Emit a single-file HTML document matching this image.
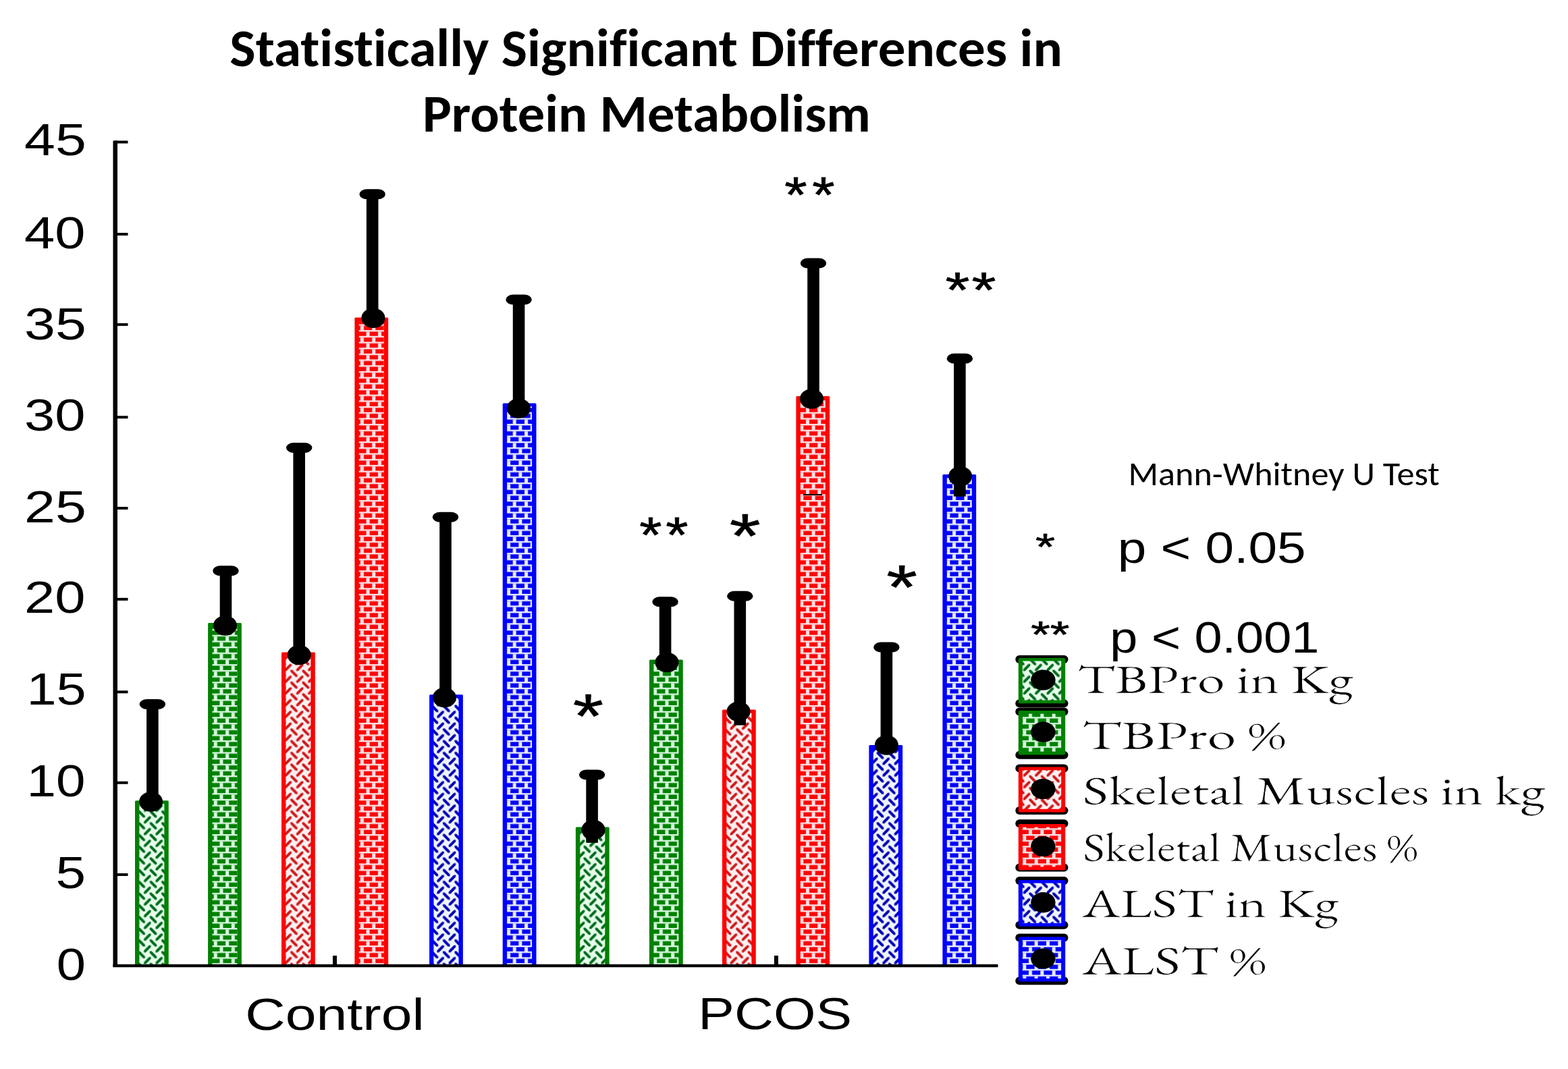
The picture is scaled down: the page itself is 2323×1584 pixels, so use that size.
<!DOCTYPE html><html><head><meta charset="utf-8"><title>Statistically Significant Differences in Protein Metabolism</title><style>html,body{margin:0;padding:0;background:#fff;overflow:hidden}svg{display:block}</style></head><body>
<svg width="2323" height="1584" viewBox="0 0 2323 1584">
<defs>
<pattern id="wg" patternUnits="userSpaceOnUse" x="12.86" y="1.9" width="17.37" height="17.37"><rect width="17.37" height="17.37" fill="#e6fdea"/><path d="M-16.87 -16.87L-14.02 -16.87L-6.37 -9.22L-6.37 -6.37L-9.22 -6.37L-16.87 -14.02ZM-8.19 2.31L-8.19 -0.54L-0.54 -8.19L2.31 -8.19L2.31 -5.34L-5.34 2.31ZM-16.87 0.50L-14.02 0.50L-6.37 8.15L-6.37 11.00L-9.22 11.00L-16.87 3.35ZM-8.19 19.69L-8.19 16.84L-0.54 9.19L2.31 9.19L2.31 12.04L-5.34 19.69ZM-16.87 17.87L-14.02 17.87L-6.37 25.52L-6.37 28.37L-9.22 28.37L-16.87 20.72ZM-8.19 37.05L-8.19 34.20L-0.54 26.55L2.31 26.55L2.31 29.41L-5.34 37.05ZM0.50 -16.87L3.35 -16.87L11.00 -9.22L11.00 -6.37L8.15 -6.37L0.50 -14.02ZM9.19 2.31L9.19 -0.54L16.84 -8.19L19.69 -8.19L19.69 -5.34L12.04 2.31ZM0.50 0.50L3.35 0.50L11.00 8.15L11.00 11.00L8.15 11.00L0.50 3.35ZM9.19 19.69L9.19 16.84L16.84 9.19L19.69 9.19L19.69 12.04L12.04 19.69ZM0.50 17.87L3.35 17.87L11.00 25.52L11.00 28.37L8.15 28.37L0.50 20.72ZM9.19 37.05L9.19 34.20L16.84 26.55L19.69 26.55L19.69 29.41L12.04 37.05ZM17.87 -16.87L20.72 -16.87L28.37 -9.22L28.37 -6.37L25.52 -6.37L17.87 -14.02ZM26.55 2.31L26.55 -0.54L34.20 -8.19L37.05 -8.19L37.05 -5.34L29.41 2.31ZM17.87 0.50L20.72 0.50L28.37 8.15L28.37 11.00L25.52 11.00L17.87 3.35ZM26.55 19.69L26.55 16.84L34.20 9.19L37.05 9.19L37.05 12.04L29.41 19.69ZM17.87 17.87L20.72 17.87L28.37 25.52L28.37 28.37L25.52 28.37L17.87 20.72ZM26.55 37.05L26.55 34.20L34.20 26.55L37.05 26.55L37.05 29.41L29.41 37.05Z" fill="#006c1e"/></pattern>
<pattern id="kg" patternUnits="userSpaceOnUse" x="2.14" y="2.76" width="17.37" height="17.37"><rect width="17.37" height="17.37" fill="#008000"/><rect x="0" y="0" width="17.37" height="2.3" fill="#d8f9df"/><rect x="0" y="8.685" width="17.37" height="2.3" fill="#d8f9df"/><rect x="2" y="2.3" width="5.0" height="6.385000000000001" fill="#d8f9df"/><rect x="10.685" y="10.985" width="5.0" height="6.385000000000001" fill="#d8f9df"/></pattern>
<pattern id="wr" patternUnits="userSpaceOnUse" x="12.86" y="1.9" width="17.37" height="17.37"><rect width="17.37" height="17.37" fill="#fdf0f2"/><path d="M-16.87 -16.87L-14.02 -16.87L-6.37 -9.22L-6.37 -6.37L-9.22 -6.37L-16.87 -14.02ZM-8.19 2.31L-8.19 -0.54L-0.54 -8.19L2.31 -8.19L2.31 -5.34L-5.34 2.31ZM-16.87 0.50L-14.02 0.50L-6.37 8.15L-6.37 11.00L-9.22 11.00L-16.87 3.35ZM-8.19 19.69L-8.19 16.84L-0.54 9.19L2.31 9.19L2.31 12.04L-5.34 19.69ZM-16.87 17.87L-14.02 17.87L-6.37 25.52L-6.37 28.37L-9.22 28.37L-16.87 20.72ZM-8.19 37.05L-8.19 34.20L-0.54 26.55L2.31 26.55L2.31 29.41L-5.34 37.05ZM0.50 -16.87L3.35 -16.87L11.00 -9.22L11.00 -6.37L8.15 -6.37L0.50 -14.02ZM9.19 2.31L9.19 -0.54L16.84 -8.19L19.69 -8.19L19.69 -5.34L12.04 2.31ZM0.50 0.50L3.35 0.50L11.00 8.15L11.00 11.00L8.15 11.00L0.50 3.35ZM9.19 19.69L9.19 16.84L16.84 9.19L19.69 9.19L19.69 12.04L12.04 19.69ZM0.50 17.87L3.35 17.87L11.00 25.52L11.00 28.37L8.15 28.37L0.50 20.72ZM9.19 37.05L9.19 34.20L16.84 26.55L19.69 26.55L19.69 29.41L12.04 37.05ZM17.87 -16.87L20.72 -16.87L28.37 -9.22L28.37 -6.37L25.52 -6.37L17.87 -14.02ZM26.55 2.31L26.55 -0.54L34.20 -8.19L37.05 -8.19L37.05 -5.34L29.41 2.31ZM17.87 0.50L20.72 0.50L28.37 8.15L28.37 11.00L25.52 11.00L17.87 3.35ZM26.55 19.69L26.55 16.84L34.20 9.19L37.05 9.19L37.05 12.04L29.41 19.69ZM17.87 17.87L20.72 17.87L28.37 25.52L28.37 28.37L25.52 28.37L17.87 20.72ZM26.55 37.05L26.55 34.20L34.20 26.55L37.05 26.55L37.05 29.41L29.41 37.05Z" fill="#d01c1c"/></pattern>
<pattern id="kr" patternUnits="userSpaceOnUse" x="2.14" y="2.76" width="17.37" height="17.37"><rect width="17.37" height="17.37" fill="#f80808"/><rect x="0" y="0" width="17.37" height="2.3" fill="#fce2e6"/><rect x="0" y="8.685" width="17.37" height="2.3" fill="#fce2e6"/><rect x="2" y="2.3" width="5.0" height="6.385000000000001" fill="#fce2e6"/><rect x="10.685" y="10.985" width="5.0" height="6.385000000000001" fill="#fce2e6"/></pattern>
<pattern id="wb" patternUnits="userSpaceOnUse" x="12.86" y="1.9" width="17.37" height="17.37"><rect width="17.37" height="17.37" fill="#f0f4fe"/><path d="M-16.87 -16.87L-14.02 -16.87L-6.37 -9.22L-6.37 -6.37L-9.22 -6.37L-16.87 -14.02ZM-8.19 2.31L-8.19 -0.54L-0.54 -8.19L2.31 -8.19L2.31 -5.34L-5.34 2.31ZM-16.87 0.50L-14.02 0.50L-6.37 8.15L-6.37 11.00L-9.22 11.00L-16.87 3.35ZM-8.19 19.69L-8.19 16.84L-0.54 9.19L2.31 9.19L2.31 12.04L-5.34 19.69ZM-16.87 17.87L-14.02 17.87L-6.37 25.52L-6.37 28.37L-9.22 28.37L-16.87 20.72ZM-8.19 37.05L-8.19 34.20L-0.54 26.55L2.31 26.55L2.31 29.41L-5.34 37.05ZM0.50 -16.87L3.35 -16.87L11.00 -9.22L11.00 -6.37L8.15 -6.37L0.50 -14.02ZM9.19 2.31L9.19 -0.54L16.84 -8.19L19.69 -8.19L19.69 -5.34L12.04 2.31ZM0.50 0.50L3.35 0.50L11.00 8.15L11.00 11.00L8.15 11.00L0.50 3.35ZM9.19 19.69L9.19 16.84L16.84 9.19L19.69 9.19L19.69 12.04L12.04 19.69ZM0.50 17.87L3.35 17.87L11.00 25.52L11.00 28.37L8.15 28.37L0.50 20.72ZM9.19 37.05L9.19 34.20L16.84 26.55L19.69 26.55L19.69 29.41L12.04 37.05ZM17.87 -16.87L20.72 -16.87L28.37 -9.22L28.37 -6.37L25.52 -6.37L17.87 -14.02ZM26.55 2.31L26.55 -0.54L34.20 -8.19L37.05 -8.19L37.05 -5.34L29.41 2.31ZM17.87 0.50L20.72 0.50L28.37 8.15L28.37 11.00L25.52 11.00L17.87 3.35ZM26.55 19.69L26.55 16.84L34.20 9.19L37.05 9.19L37.05 12.04L29.41 19.69ZM17.87 17.87L20.72 17.87L28.37 25.52L28.37 28.37L25.52 28.37L17.87 20.72ZM26.55 37.05L26.55 34.20L34.20 26.55L37.05 26.55L37.05 29.41L29.41 37.05Z" fill="#0000b4"/></pattern>
<pattern id="kb" patternUnits="userSpaceOnUse" x="2.14" y="2.76" width="17.37" height="17.37"><rect width="17.37" height="17.37" fill="#0404f4"/><rect x="0" y="0" width="17.37" height="2.3" fill="#e9eefc"/><rect x="0" y="8.685" width="17.37" height="2.3" fill="#e9eefc"/><rect x="2" y="2.3" width="5.0" height="6.385000000000001" fill="#e9eefc"/><rect x="10.685" y="10.985" width="5.0" height="6.385000000000001" fill="#e9eefc"/></pattern>
</defs>
<rect width="2323" height="1584" fill="#fff"/>
<rect x="200.00" y="1186.20" width="49.8" height="244.80" rx="1.5" fill="#008000"/>
<rect x="206.40" y="1191.20" width="37.0" height="239.80" fill="url(#wg)"/>
<rect x="308.10" y="922.90" width="49.8" height="508.10" rx="1.5" fill="#008000"/>
<rect x="314.50" y="927.90" width="37.0" height="503.10" fill="url(#kg)"/>
<rect x="417.00" y="966.60" width="49.8" height="464.40" rx="1.5" fill="#ff0000"/>
<rect x="423.40" y="971.60" width="37.0" height="459.40" fill="url(#wr)"/>
<rect x="525.40" y="470.40" width="49.8" height="960.60" rx="1.5" fill="#ff0000"/>
<rect x="531.80" y="475.40" width="37.0" height="955.60" fill="url(#kr)"/>
<rect x="636.10" y="1029.30" width="49.8" height="401.70" rx="1.5" fill="#0000ff"/>
<rect x="642.50" y="1034.30" width="37.0" height="396.70" fill="url(#wb)"/>
<rect x="744.70" y="597.40" width="49.8" height="833.60" rx="1.5" fill="#0000ff"/>
<rect x="751.10" y="602.40" width="37.0" height="828.60" fill="url(#kb)"/>
<rect x="852.90" y="1225.50" width="49.8" height="205.50" rx="1.5" fill="#008000"/>
<rect x="859.30" y="1230.50" width="37.0" height="200.50" fill="url(#wg)"/>
<rect x="962.00" y="977.60" width="49.8" height="453.40" rx="1.5" fill="#008000"/>
<rect x="968.40" y="982.60" width="37.0" height="448.40" fill="url(#kg)"/>
<rect x="1070.00" y="1051.60" width="49.8" height="379.40" rx="1.5" fill="#ff0000"/>
<rect x="1076.40" y="1056.60" width="37.0" height="374.40" fill="url(#wr)"/>
<rect x="1179.40" y="587.00" width="49.8" height="844.00" rx="1.5" fill="#ff0000"/>
<rect x="1185.80" y="592.00" width="37.0" height="839.00" fill="url(#kr)"/>
<rect x="1287.40" y="1104.00" width="49.8" height="327.00" rx="1.5" fill="#0000ff"/>
<rect x="1293.80" y="1109.00" width="37.0" height="322.00" fill="url(#wb)"/>
<rect x="1396.40" y="703.00" width="49.8" height="728.00" rx="1.5" fill="#0000ff"/>
<rect x="1402.80" y="708.00" width="37.0" height="723.00" fill="url(#kb)"/>
<rect x="217.10" y="1043.50" width="17.6" height="144.50" fill="#000"/>
<rect x="206.70" y="1036.00" width="38.4" height="15" rx="11" ry="7.5" fill="#000"/>
<ellipse cx="223.60" cy="1188.00" rx="17.5" ry="14.8" fill="#000"/>
<rect x="325.70" y="845.80" width="17.6" height="81.20" fill="#000"/>
<rect x="315.30" y="838.30" width="38.4" height="15" rx="11" ry="7.5" fill="#000"/>
<ellipse cx="333.50" cy="927.00" rx="17.5" ry="14.8" fill="#000"/>
<rect x="434.40" y="663.50" width="17.6" height="307.00" fill="#000"/>
<rect x="424.00" y="656.00" width="38.4" height="15" rx="11" ry="7.5" fill="#000"/>
<ellipse cx="443.20" cy="970.50" rx="17.5" ry="14.8" fill="#000"/>
<rect x="542.90" y="287.80" width="17.6" height="183.40" fill="#000"/>
<rect x="532.50" y="280.30" width="38.4" height="15" rx="11" ry="7.5" fill="#000"/>
<ellipse cx="553.00" cy="471.20" rx="17.5" ry="14.8" fill="#000"/>
<rect x="651.20" y="766.20" width="17.6" height="267.40" fill="#000"/>
<rect x="640.80" y="758.70" width="38.4" height="15" rx="11" ry="7.5" fill="#000"/>
<ellipse cx="658.50" cy="1033.60" rx="17.5" ry="14.8" fill="#000"/>
<rect x="759.80" y="444.00" width="17.6" height="161.00" fill="#000"/>
<rect x="749.40" y="436.50" width="38.4" height="15" rx="11" ry="7.5" fill="#000"/>
<ellipse cx="768.40" cy="605.00" rx="17.5" ry="14.8" fill="#000"/>
<rect x="868.30" y="1148.00" width="17.6" height="100.80" fill="#000"/>
<rect x="857.90" y="1140.50" width="38.4" height="15" rx="11" ry="7.5" fill="#000"/>
<ellipse cx="879.00" cy="1229.50" rx="17.5" ry="14.8" fill="#000"/>
<rect x="976.80" y="891.70" width="17.6" height="89.80" fill="#000"/>
<rect x="966.40" y="884.20" width="38.4" height="15" rx="11" ry="7.5" fill="#000"/>
<ellipse cx="988.00" cy="981.50" rx="17.5" ry="14.8" fill="#000"/>
<rect x="1087.50" y="883.20" width="17.6" height="191.40" fill="#000"/>
<rect x="1077.10" y="875.70" width="38.4" height="15" rx="11" ry="7.5" fill="#000"/>
<ellipse cx="1094.10" cy="1054.30" rx="17.5" ry="14.8" fill="#000"/>
<rect x="1196.20" y="390.00" width="17.6" height="201.00" fill="#000"/>
<rect x="1185.80" y="382.50" width="38.4" height="15" rx="11" ry="7.5" fill="#000"/>
<ellipse cx="1202.50" cy="591.00" rx="17.5" ry="14.8" fill="#000"/>
<rect x="1304.60" y="959.00" width="17.6" height="145.00" fill="#000"/>
<rect x="1294.20" y="951.50" width="38.4" height="15" rx="11" ry="7.5" fill="#000"/>
<ellipse cx="1313.40" cy="1104.00" rx="17.5" ry="14.8" fill="#000"/>
<rect x="1413.10" y="531.30" width="17.6" height="204.30" fill="#000"/>
<rect x="1402.70" y="523.80" width="38.4" height="15" rx="11" ry="7.5" fill="#000"/>
<ellipse cx="1422.70" cy="705.70" rx="17.5" ry="14.8" fill="#000"/>
<rect x="1190" y="732" width="28" height="2" fill="#000"/>
<rect x="167.5" y="208.4" width="6.5" height="1224.6" fill="#000"/>
<rect x="167.5" y="1428.8" width="1311.0" height="4.4" fill="#000"/>
<rect x="170" y="208.5" width="19.5" height="4" fill="#000"/>
<rect x="170" y="345.0" width="19.5" height="4" fill="#000"/>
<rect x="170" y="478.9" width="19.5" height="4" fill="#000"/>
<rect x="170" y="616.2" width="19.5" height="4" fill="#000"/>
<rect x="170" y="751.0" width="19.5" height="4" fill="#000"/>
<rect x="170" y="885.9" width="19.5" height="4" fill="#000"/>
<rect x="170" y="1023.3" width="19.5" height="4" fill="#000"/>
<rect x="170" y="1157.8" width="19.5" height="4" fill="#000"/>
<rect x="170" y="1294.0" width="19.5" height="4" fill="#000"/>
<rect x="493" y="1416" width="6" height="15" fill="#000"/>
<rect x="1147" y="1416" width="6" height="15" fill="#000"/>
<rect x="1504.3" y="971" width="78.2" height="12" rx="6" fill="#000"/>
<rect x="1504.3" y="1036.3" width="78.2" height="12" rx="6" fill="#000"/>
<rect x="1508.8" y="974.9" width="69.4" height="67.4" rx="2" fill="#008000"/>
<rect x="1514.8" y="979.5" width="57.4" height="58.0" fill="url(#wg)"/>
<ellipse cx="1545.4" cy="1007.6" rx="18.2" ry="15.2" fill="#000"/>
<rect x="1504.3" y="1048.5" width="78.2" height="12" rx="6" fill="#000"/>
<rect x="1504.3" y="1112.7" width="78.2" height="12" rx="6" fill="#000"/>
<rect x="1508.8" y="1053.1" width="69.4" height="65.3" rx="2" fill="#008000"/>
<rect x="1514.8" y="1057.6999999999998" width="57.4" height="55.9" fill="url(#kg)"/>
<ellipse cx="1545.4" cy="1084.8" rx="18.2" ry="15.2" fill="#000"/>
<rect x="1504.3" y="1132.6" width="78.2" height="12" rx="6" fill="#000"/>
<rect x="1504.3" y="1195" width="78.2" height="12" rx="6" fill="#000"/>
<rect x="1508.8" y="1136.6" width="69.4" height="67.0" rx="2" fill="#ff0000"/>
<rect x="1514.8" y="1141.1999999999998" width="57.4" height="57.6" fill="url(#wr)"/>
<ellipse cx="1545.4" cy="1169.1" rx="18.2" ry="15.2" fill="#000"/>
<rect x="1504.3" y="1214.2" width="78.2" height="12" rx="6" fill="#000"/>
<rect x="1504.3" y="1279.5" width="78.2" height="12" rx="6" fill="#000"/>
<rect x="1508.8" y="1221" width="69.4" height="68.2" rx="2" fill="#ff0000"/>
<rect x="1514.8" y="1225.6" width="57.4" height="58.8" fill="url(#kr)"/>
<ellipse cx="1545.4" cy="1254.1" rx="18.2" ry="15.2" fill="#000"/>
<rect x="1504.3" y="1298.9" width="78.2" height="12" rx="6" fill="#000"/>
<rect x="1504.3" y="1364.7" width="78.2" height="12" rx="6" fill="#000"/>
<rect x="1508.8" y="1304" width="69.4" height="68.7" rx="2" fill="#0000ff"/>
<rect x="1514.8" y="1308.6" width="57.4" height="59.3" fill="url(#wb)"/>
<ellipse cx="1545.4" cy="1337.3" rx="18.2" ry="15.2" fill="#000"/>
<rect x="1504.3" y="1383.6" width="78.2" height="12" rx="6" fill="#000"/>
<rect x="1504.3" y="1447.3" width="78.2" height="12" rx="6" fill="#000"/>
<rect x="1508.8" y="1388.3" width="69.4" height="66.3" rx="2" fill="#0000ff"/>
<rect x="1514.8" y="1392.8999999999999" width="57.4" height="56.9" fill="url(#kb)"/>
<ellipse cx="1545.4" cy="1420.4" rx="18.2" ry="15.2" fill="#000"/>
<text x="340.35" y="97.80" font-family='"Carlito", "Liberation Sans", sans-serif' font-weight="bold" font-size="79" style="font-variant-ligatures:none" textLength="1233.59" lengthAdjust="spacingAndGlyphs" xml:space="preserve">Statistically Significant Differences in</text>
<text x="625.92" y="194.90" font-family='"Carlito", "Liberation Sans", sans-serif' font-weight="bold" font-size="79" style="font-variant-ligatures:none" textLength="663.99" lengthAdjust="spacingAndGlyphs" xml:space="preserve">Protein Metabolism</text>
<text x="36.07" y="230.00" font-family='"Liberation Sans", "Arial", sans-serif' font-weight="normal" font-size="67.3" style="font-variant-ligatures:none" textLength="91.73" lengthAdjust="spacingAndGlyphs" xml:space="preserve">45</text>
<text x="36.09" y="368.40" font-family='"Liberation Sans", "Arial", sans-serif' font-weight="normal" font-size="67.3" style="font-variant-ligatures:none" textLength="90.46" lengthAdjust="spacingAndGlyphs" xml:space="preserve">40</text>
<text x="36.02" y="503.00" font-family='"Liberation Sans", "Arial", sans-serif' font-weight="normal" font-size="67.3" style="font-variant-ligatures:none" textLength="91.78" lengthAdjust="spacingAndGlyphs" xml:space="preserve">35</text>
<text x="36.07" y="637.80" font-family='"Liberation Sans", "Arial", sans-serif' font-weight="normal" font-size="67.3" style="font-variant-ligatures:none" textLength="90.47" lengthAdjust="spacingAndGlyphs" xml:space="preserve">30</text>
<text x="36.02" y="774.20" font-family='"Liberation Sans", "Arial", sans-serif' font-weight="normal" font-size="67.3" style="font-variant-ligatures:none" textLength="91.78" lengthAdjust="spacingAndGlyphs" xml:space="preserve">25</text>
<text x="36.07" y="908.10" font-family='"Liberation Sans", "Arial", sans-serif' font-weight="normal" font-size="67.3" style="font-variant-ligatures:none" textLength="90.47" lengthAdjust="spacingAndGlyphs" xml:space="preserve">20</text>
<text x="39.40" y="1044.10" font-family='"Liberation Sans", "Arial", sans-serif' font-weight="normal" font-size="67.3" style="font-variant-ligatures:none" textLength="88.27" lengthAdjust="spacingAndGlyphs" xml:space="preserve">15</text>
<text x="39.49" y="1180.20" font-family='"Liberation Sans", "Arial", sans-serif' font-weight="normal" font-size="67.3" style="font-variant-ligatures:none" textLength="86.97" lengthAdjust="spacingAndGlyphs" xml:space="preserve">10</text>
<text x="82.63" y="1316.10" font-family='"Liberation Sans", "Arial", sans-serif' font-weight="normal" font-size="67.3" style="font-variant-ligatures:none" textLength="44.57" lengthAdjust="spacingAndGlyphs" xml:space="preserve">5</text>
<text x="83.89" y="1452.30" font-family='"Liberation Sans", "Arial", sans-serif' font-weight="normal" font-size="67.3" style="font-variant-ligatures:none" textLength="43.22" lengthAdjust="spacingAndGlyphs" xml:space="preserve">0</text>
<text x="363.18" y="1525.60" font-family='"Liberation Sans", "Arial", sans-serif' font-weight="normal" font-size="66.5" style="font-variant-ligatures:none" textLength="265.64" lengthAdjust="spacingAndGlyphs" xml:space="preserve">Control</text>
<text x="1034.33" y="1525.20" font-family='"Liberation Sans", "Arial", sans-serif' font-weight="normal" font-size="67.3" style="font-variant-ligatures:none" textLength="227.72" lengthAdjust="spacingAndGlyphs" xml:space="preserve">PCOS</text>
<text x="1671.48" y="718.80" font-family='"Carlito", "Liberation Sans", sans-serif' font-weight="normal" font-size="49.4" style="font-variant-ligatures:none" textLength="461.20" lengthAdjust="spacingAndGlyphs" xml:space="preserve">Mann-Whitney U Test</text>
<text x="1655.72" y="833.60" font-family='"Liberation Sans", "Arial", sans-serif' font-weight="normal" font-size="65.5" style="font-variant-ligatures:none" textLength="278.97" lengthAdjust="spacingAndGlyphs" xml:space="preserve">p &lt; 0.05</text>
<text x="1644.29" y="966.50" font-family='"Liberation Sans", "Arial", sans-serif' font-weight="normal" font-size="65.5" style="font-variant-ligatures:none" textLength="310.09" lengthAdjust="spacingAndGlyphs" xml:space="preserve">p &lt; 0.001</text>
<text x="1596.09" y="1026.80" font-family='"EB Garamond", "Liberation Serif", serif' font-weight="normal" font-size="59" style="font-variant-ligatures:none" textLength="408.59" lengthAdjust="spacingAndGlyphs" stroke="#fff" stroke-width="0.7" xml:space="preserve">TBPro in Kg</text>
<text x="1602.93" y="1109.70" font-family='"EB Garamond", "Liberation Serif", serif' font-weight="normal" font-size="59" style="font-variant-ligatures:none" textLength="302.04" lengthAdjust="spacingAndGlyphs" stroke="#fff" stroke-width="0.7" xml:space="preserve">TBPro %</text>
<text x="1603.80" y="1191.90" font-family='"EB Garamond", "Liberation Serif", serif' font-weight="normal" font-size="59" style="font-variant-ligatures:none" textLength="685.07" lengthAdjust="spacingAndGlyphs" stroke="#fff" stroke-width="0.7" xml:space="preserve">Skeletal Muscles in kg</text>
<text x="1604.22" y="1276.10" font-family='"EB Garamond", "Liberation Serif", serif' font-weight="normal" font-size="59" style="font-variant-ligatures:none" textLength="496.10" lengthAdjust="spacingAndGlyphs" stroke="#fff" stroke-width="0.7" xml:space="preserve">Skeletal Muscles %</text>
<text x="1603.60" y="1359.20" font-family='"EB Garamond", "Liberation Serif", serif' font-weight="normal" font-size="59" style="font-variant-ligatures:none" textLength="379.26" lengthAdjust="spacingAndGlyphs" stroke="#fff" stroke-width="0.7" xml:space="preserve">ALST in Kg</text>
<text x="1603.60" y="1444.10" font-family='"EB Garamond", "Liberation Serif", serif' font-weight="normal" font-size="59" style="font-variant-ligatures:none" textLength="272.17" lengthAdjust="spacingAndGlyphs" stroke="#fff" stroke-width="0.7" xml:space="preserve">ALST %</text>
<text transform="translate(848.77 1093.27) scale(1.2554 1)" font-family='"Liberation Sans", "Arial", sans-serif' font-size="92.86" letter-spacing="0.00" stroke="#000" stroke-width="0.72" stroke-linejoin="round">*</text>
<text transform="translate(947.19 817.86) scale(1.1589 1)" font-family='"Liberation Sans", "Arial", sans-serif' font-size="73.71" letter-spacing="5.05" stroke="#000" stroke-width="0.78" stroke-linejoin="round">**</text>
<text transform="translate(1080.73 826.37) scale(1.2699 1)" font-family='"Liberation Sans", "Arial", sans-serif' font-size="93.14" letter-spacing="0.00" stroke="#000" stroke-width="0.71" stroke-linejoin="round">*</text>
<text transform="translate(1162.19 313.67) scale(1.1673 1)" font-family='"Liberation Sans", "Arial", sans-serif' font-size="73.43" letter-spacing="6.63" stroke="#000" stroke-width="0.77" stroke-linejoin="round">**</text>
<text transform="translate(1313.35 902.27) scale(1.2607 1)" font-family='"Liberation Sans", "Arial", sans-serif' font-size="93.14" letter-spacing="0.00" stroke="#000" stroke-width="0.71" stroke-linejoin="round">*</text>
<text transform="translate(1400.55 454.96) scale(1.2558 1)" font-family='"Liberation Sans", "Arial", sans-serif' font-size="73.71" letter-spacing="2.28" stroke="#000" stroke-width="0.72" stroke-linejoin="round">**</text>
<text transform="translate(1534.01 828.55) scale(1.3454 1)" font-family='"Liberation Sans", "Arial", sans-serif' font-size="55.43" letter-spacing="0.00" stroke="#000" stroke-width="0.67" stroke-linejoin="round">*</text>
<text transform="translate(1527.23 959.35) scale(1.3299 1)" font-family='"Liberation Sans", "Arial", sans-serif' font-size="55.43" letter-spacing="-0.14" stroke="#000" stroke-width="0.68" stroke-linejoin="round">**</text>
</svg></body></html>
